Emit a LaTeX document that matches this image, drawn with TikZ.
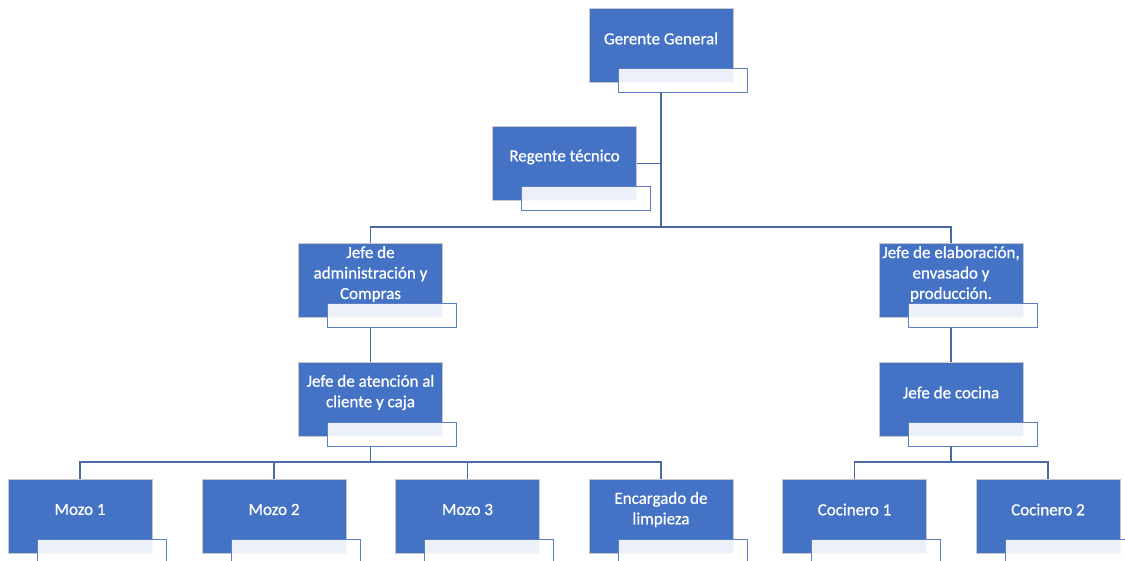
\documentclass[tikz,border=0pt]{standalone}
\usepackage{fontspec}
\setmainfont{Carlito}
\newfontfamily\capfont{Carlito}[FakeBold=0.7]
\pgfdeclarelayer{bg}
\pgfsetlayers{bg,main}
\definecolor{boxblue}{HTML}{4472C4}
\definecolor{edgegray}{HTML}{C8C8C8}
\definecolor{tabline}{HTML}{5B7FC5}
\definecolor{wirecol}{HTML}{4A6AA5}
\tikzset{
  unit/.style={draw=edgegray, line width=1pt, fill=boxblue,
    minimum width=144pt, minimum height=74pt, inner sep=0pt},
  tab/.style={draw=tabline, line width=1pt, fill=white, fill opacity=0.9,
    minimum width=129pt, minimum height=24pt, inner sep=0pt, anchor=north west},
  caption/.style={text=white, font=\capfont\fontsize{17}{20.5}\selectfont,
    align=center, inner sep=0pt},
  wire/.style={draw=wirecol, line width=1.1pt}
}
% one position of the chart: blue box, title tab and its text
\newcommand\orgunit[4]{%
  \node[unit] (#1) at (#2,#3) {};
  \node[tab] (#1-t) at ([xshift=29pt,yshift=15pt]#1.south west) {};
  \node[caption] (#1-l) at ([yshift=6.5pt]#1.center) {#4};
}
\begin{document}
\begin{tikzpicture}[x=1pt,y=-1pt]
\useasboundingbox (0,0) rectangle (1125,560);
\clip (0,0) rectangle (1125,560);

\orgunit{g}{661}{45}{Gerente General}
\orgunit{r}{564.5}{163.5}{Regente técnico}
\orgunit{ja}{370.5}{280.5}{Jefe de\\administración y\\Compras}
\orgunit{je}{951}{280.5}{Jefe de elaboración,\\envasado y\\producción.}
\orgunit{jc}{370.5}{399}{Jefe de atención al\\cliente y caja}
\orgunit{jk}{951}{399}{Jefe de cocina}
\orgunit{m1}{80}{516}{Mozo 1}
\orgunit{m2}{274}{516}{Mozo 2}
\orgunit{m3}{467.5}{516}{Mozo 3}
\orgunit{el}{661}{516}{Encargado de\\limpieza}
\orgunit{c1}{854.5}{516}{Cocinero 1}
\orgunit{c2}{1048}{516}{Cocinero 2}

\begin{pgfonlayer}{bg}
  \coordinate (bus1) at (0,227);
  \coordinate (bus2) at (0,462);
  % top level
  \draw[wire] (g.center |- g-t.south) -- (g.center |- bus1);
  \draw[wire] (r.east) -- (r.east -| g.center);
  \draw[wire] (ja.north) -- (ja.north |- bus1) -| (je.north);
  % second level
  \draw[wire] (ja.center |- ja-t.south) -- (jc.north);
  \draw[wire] (je.center |- je-t.south) -- (jk.north);
  % service staff
  \draw[wire] (jc.center |- jc-t.south) -- (jc.center |- bus2);
  \draw[wire] (m1.north) -- (m1.north |- bus2) -| (el.north);
  \draw[wire] (m2.north) -- (m2.north |- bus2);
  \draw[wire] (m3.north) -- (m3.north |- bus2);
  % kitchen staff
  \draw[wire] (jk.center |- jk-t.south) -- (jk.center |- bus2);
  \draw[wire] (c1.north) -- (c1.north |- bus2) -| (c2.north);
\end{pgfonlayer}
\end{tikzpicture}
\end{document}
